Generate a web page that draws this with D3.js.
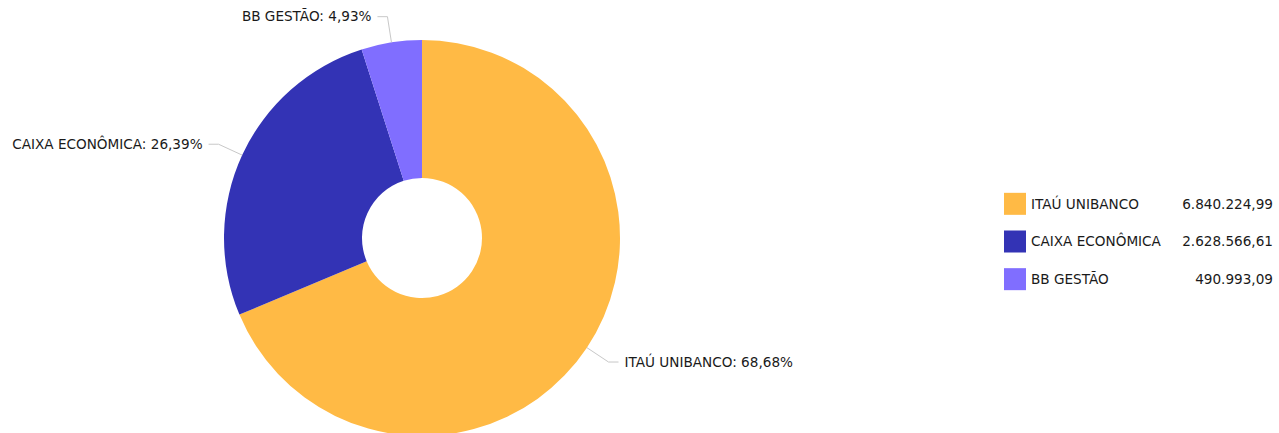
<!DOCTYPE html>
<html>
<head>
<meta charset="utf-8">
<script src="https://cdn.jsdelivr.net/npm/d3@7"></script>
<style>
  body { margin: 0; background: #fff; }
  text { font-family: "DejaVu Sans", sans-serif; fill: #1a1a1a; }
</style>
</head>
<body>
<div id="chart"></div>
<script>
// Data
var categories = ["ITAÚ UNIBANCO", "CAIXA ECONÔMICA", "BB GESTÃO"];
var values = [6840224.99, 2628566.61, 490993.09];
var valueLabels = ["6.840.224,99", "2.628.566,61", "490.993,09"];
var colors = ["#ffba45", "#3333b5", "#806eff"];

var width = 1279, height = 433;
var cx = 422, cy = 238, outerR = 198, innerR = 60;

var svg = d3.select("#chart").append("svg")
    .attr("width", width)
    .attr("height", height);

var total = d3.sum(values);
var fmtPct = function(v) { return (v / total * 100).toFixed(2).replace(".", ",") + "%"; };

var pie = d3.pie().sort(null).value(function(d) { return d; });
var arcs = pie(values);

var arc = d3.arc().innerRadius(innerR).outerRadius(outerR);

var g = svg.append("g")
    .attr("transform", "translate(" + cx + "," + cy + ")");

g.selectAll("path.slice")
    .data(arcs)
  .enter()
  .append("path")
    .attr("class", "slice")
    .attr("d", arc)
    .attr("fill", function(d, i) { return colors[i]; });

// Leader lines and labels
var elbowR = outerR + 26;
arcs.forEach(function(d, i) {
    var a = (d.startAngle + d.endAngle) / 2;
    var x0 = Math.sin(a) * outerR, y0 = -Math.cos(a) * outerR;
    var x1 = Math.sin(a) * elbowR, y1 = -Math.cos(a) * elbowR;
    var right = x1 > 0;
    var x2 = x1 + (right ? 10 : -10);
    g.append("polyline")
        .attr("points", [[x0, y0], [x1, y1], [x2, y1]].map(function(p) { return p.join(","); }).join(" "))
        .attr("fill", "none")
        .attr("stroke", "#c8c8c8")
        .attr("stroke-width", 1);
    g.append("text")
        .attr("x", x2 + (right ? 6 : -6))
        .attr("y", y1)
        .attr("dy", "0.35em")
        .attr("text-anchor", right ? "start" : "end")
        .style("font-size", "13.6px")
        .text(categories[i] + ": " + fmtPct(values[i]));
});

// Legend
var legendY = d3.scaleBand()
    .domain(categories)
    .range([185, 298]);

var legend = svg.append("g");
var rows = legend.selectAll("g.row")
    .data(categories)
  .enter()
  .append("g")
    .attr("class", "row")
    .attr("transform", function(d) { return "translate(0," + (legendY(d) + legendY.bandwidth() / 2) + ")"; });

rows.append("rect")
    .attr("x", 1004)
    .attr("y", -11)
    .attr("width", 22)
    .attr("height", 22)
    .attr("fill", function(d, i) { return colors[i]; });

rows.append("text")
    .attr("x", 1031)
    .attr("dy", "0.35em")
    .style("font-size", "13.6px")
    .text(function(d) { return d; });

rows.append("text")
    .attr("x", 1273)
    .attr("dy", "0.35em")
    .attr("text-anchor", "end")
    .style("font-size", "13.6px")
    .text(function(d, i) { return valueLabels[i]; });
</script>
</body>
</html>
